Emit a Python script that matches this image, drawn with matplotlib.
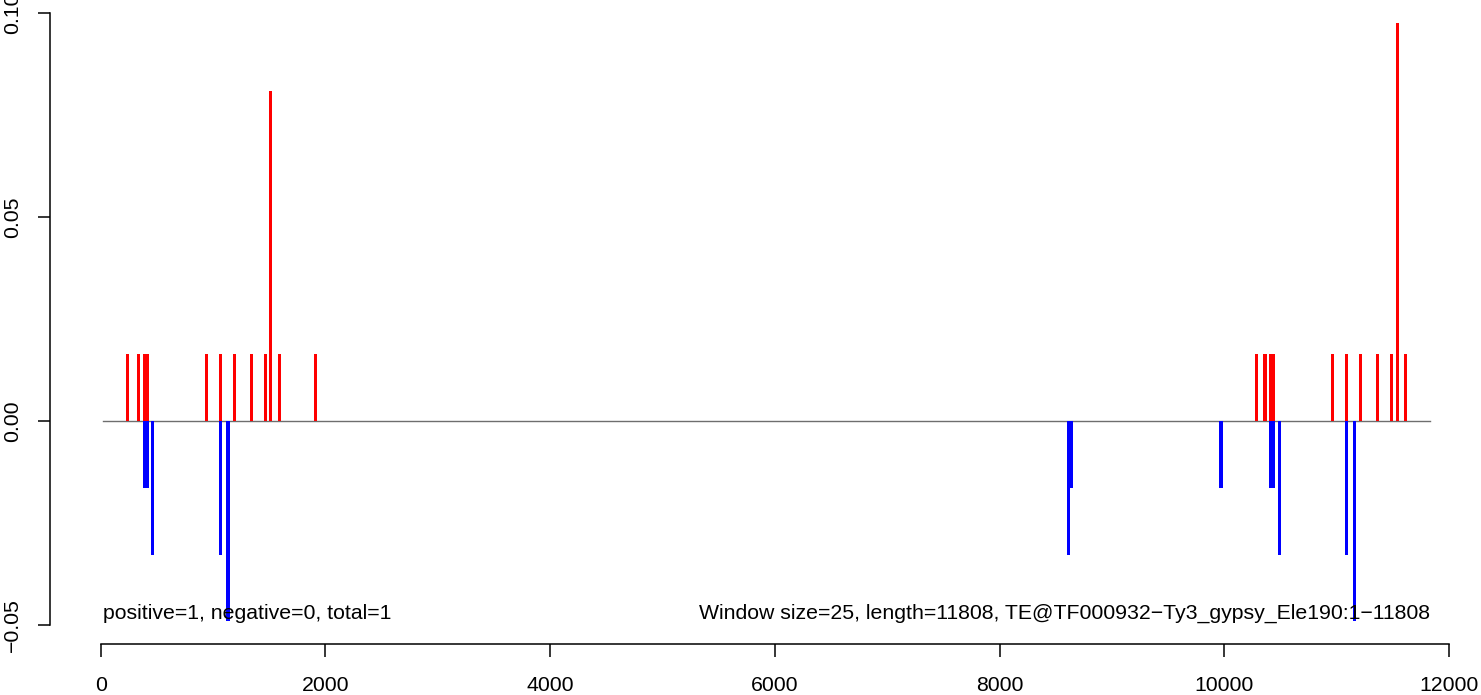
import matplotlib
matplotlib.use('Agg')
import matplotlib.pyplot as plt
import numpy as np

plt.rcParams['font.family'] = ['Liberation Sans', 'DejaVu Sans']
plt.rcParams['axes.unicode_minus'] = True

# 数据：窗口位置与信号值
window_size = 25
seq_length = 11808
te_name = 'TE@TF000932\u2212Ty3_gypsy_Ele190:1\u221211808'

pos_x = [237, 335, 390, 417, 940, 1064, 1189, 1340, 1465, 1513, 1590, 1910,
         10288, 10362, 10411, 10438, 10961, 11086, 11210, 11362, 11486, 11540, 11611]
pos_y = [0.0164, 0.0164, 0.0164, 0.0164, 0.0164, 0.0164, 0.0164, 0.0164, 0.0164, 0.081, 0.0164, 0.0164,
         0.0164, 0.0164, 0.0164, 0.0164, 0.0164, 0.0164, 0.0164, 0.0164, 0.0164, 0.0975, 0.0164]

neg_x = [390, 417, 459, 1064, 1133,
         8613, 8640, 9971, 10411, 10438, 10491, 11086, 11160]
neg_y = [-0.0164, -0.0164, -0.0328, -0.0328, -0.049,
         -0.0328, -0.0164, -0.0164, -0.0164, -0.0164, -0.0328, -0.0328, -0.049]

x_ticks = [0, 2000, 4000, 6000, 8000, 10000, 12000]
y_ticks = [-0.05, 0.00, 0.05, 0.10]
y_tick_labels = ['\u22120.05', '0.00', '0.05', '0.10']

W, H = 1481, 695
fig = plt.figure(figsize=(W / 100, H / 100), dpi=100)
ax = fig.add_axes([50 / W, (H - 644) / H, 1 - 50 / W, 644 / H])

ax.set_xlim(-451, 12285)
ax.set_ylim(-0.05466, 0.10319)

# 基线
ax.plot([window_size, seq_length + window_size], [0, 0], color='#6e6e6e', linewidth=1.0, zorder=1)

# 正负信号柱（线宽略大于窗口，模拟 R 的 type='h'）
bar_w = 28
ax.bar(pos_x, pos_y, width=bar_w, color='#ff0000', linewidth=0, zorder=2)
ax.bar(neg_x, neg_y, width=bar_w, color='#0000ff', linewidth=0, zorder=2)

# R 风格坐标轴
for side in ['top', 'right']:
    ax.spines[side].set_visible(False)
ax.spines['left'].set_bounds(-0.05, 0.10)
ax.spines['bottom'].set_bounds(0, 12000)
for side in ['left', 'bottom']:
    ax.spines[side].set_linewidth(1.1)

ax.set_xticks(x_ticks)
ax.set_xticklabels([str(v) for v in x_ticks])
ax.set_yticks(y_ticks)
ax.set_yticklabels(y_tick_labels)
ax.tick_params(axis='both', direction='out', length=9, width=1.1, labelsize=15.3)
ax.tick_params(axis='x', pad=14)
ax.tick_params(axis='y', pad=11)
for lab in ax.get_yticklabels():
    lab.set_rotation(90)
    lab.set_va('center')

# 注释文字
ax.text(window_size, -0.0472, 'positive=1, negative=0, total=1',
        fontsize=15.3, ha='left', va='center', zorder=3)
ax.text(seq_length + window_size, -0.0472,
        f'Window size={window_size}, length={seq_length}, {te_name}',
        fontsize=15.3, ha='right', va='center', zorder=3)

fig.savefig('out.png', dpi=100)
